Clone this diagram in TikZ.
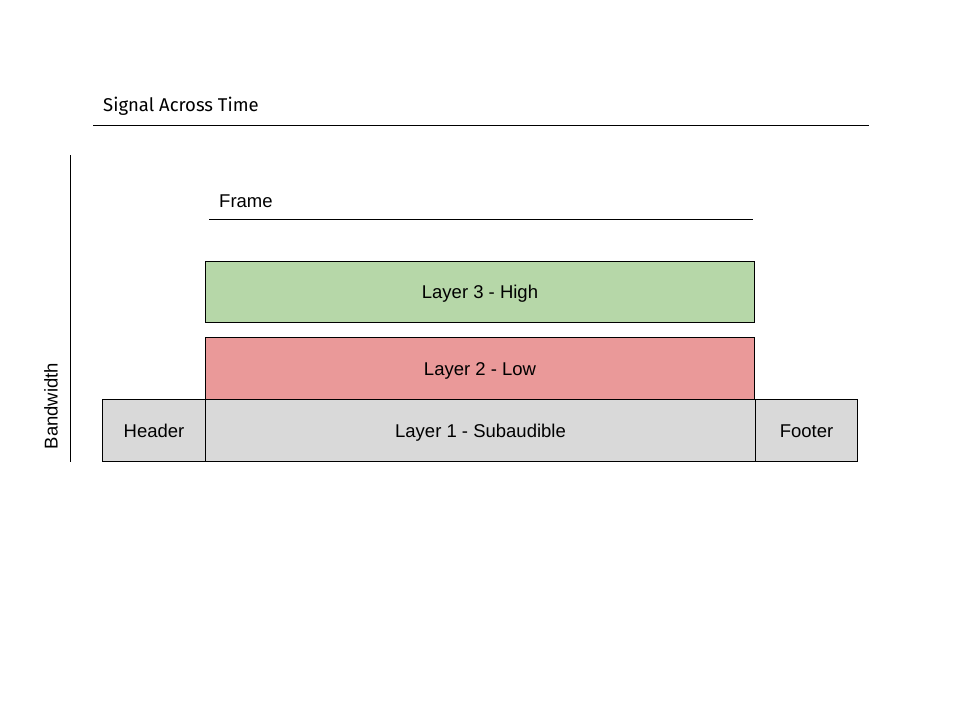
\documentclass[tikz,border=0pt]{standalone}
\usepackage{fontspec}
\setmainfont{Liberation Sans}
\newfontfamily\titlefont{Fira Sans}
\begin{document}
\begin{tikzpicture}[x=1pt,y=-1pt,
  boxstyle/.style={draw=black,line width=1pt,inner sep=0pt,anchor=north west,font=\fontsize{18.5}{20}\selectfont,text height=13.3pt,text depth=0pt},
  rule/.style={line width=1pt},
  lbl/.style={font=\fontsize{18.5}{20}\selectfont,inner sep=0pt}]
\useasboundingbox (0,0) rectangle (960,720);
% title
\node[inner sep=0pt,anchor=west,font=\titlefont\fontsize{18.5}{20}\selectfont] (title) at (103,106) {Signal Across Time};
\coordinate (tl) at (93,125);
\coordinate (tr) at (869,125);
\draw[rule] (tl) -- (tr);
% axis
\coordinate (at) at (70,155);
\coordinate (ab) at (70,462);
\draw[rule] (at) -- (ab);
\node[lbl,rotate=90,text height=13.3pt,text depth=0pt] (bw) at (51,406) {Bandwidth};
% frame
\node[lbl,anchor=west,text height=13.3pt,text depth=0pt] (frame) at (219,201) {Frame};
\coordinate (fl) at (209,219);
\coordinate (fr) at (753,219);
\draw[rule] (fl) -- (fr);
% boxes
\node[boxstyle,fill={rgb,255:red,182;green,215;blue,168},minimum width=549pt,minimum height=61pt] (l3) at (205,261) {Layer 3 - High};
\node[boxstyle,fill={rgb,255:red,234;green,153;blue,153},minimum width=549pt,minimum height=62pt] (l2) at (205,337) {Layer 2 - Low};
\node[boxstyle,fill={rgb,255:red,217;green,217;blue,217},minimum width=103pt,minimum height=62pt] (hd) at (102,399) {Header};
\node[boxstyle,fill={rgb,255:red,217;green,217;blue,217},minimum width=550pt,minimum height=62pt] (l1) at (205,399) {Layer 1 - Subaudible};
\node[boxstyle,fill={rgb,255:red,217;green,217;blue,217},minimum width=102pt,minimum height=62pt] (ft) at (755,399) {Footer};
\end{tikzpicture}
\end{document}
